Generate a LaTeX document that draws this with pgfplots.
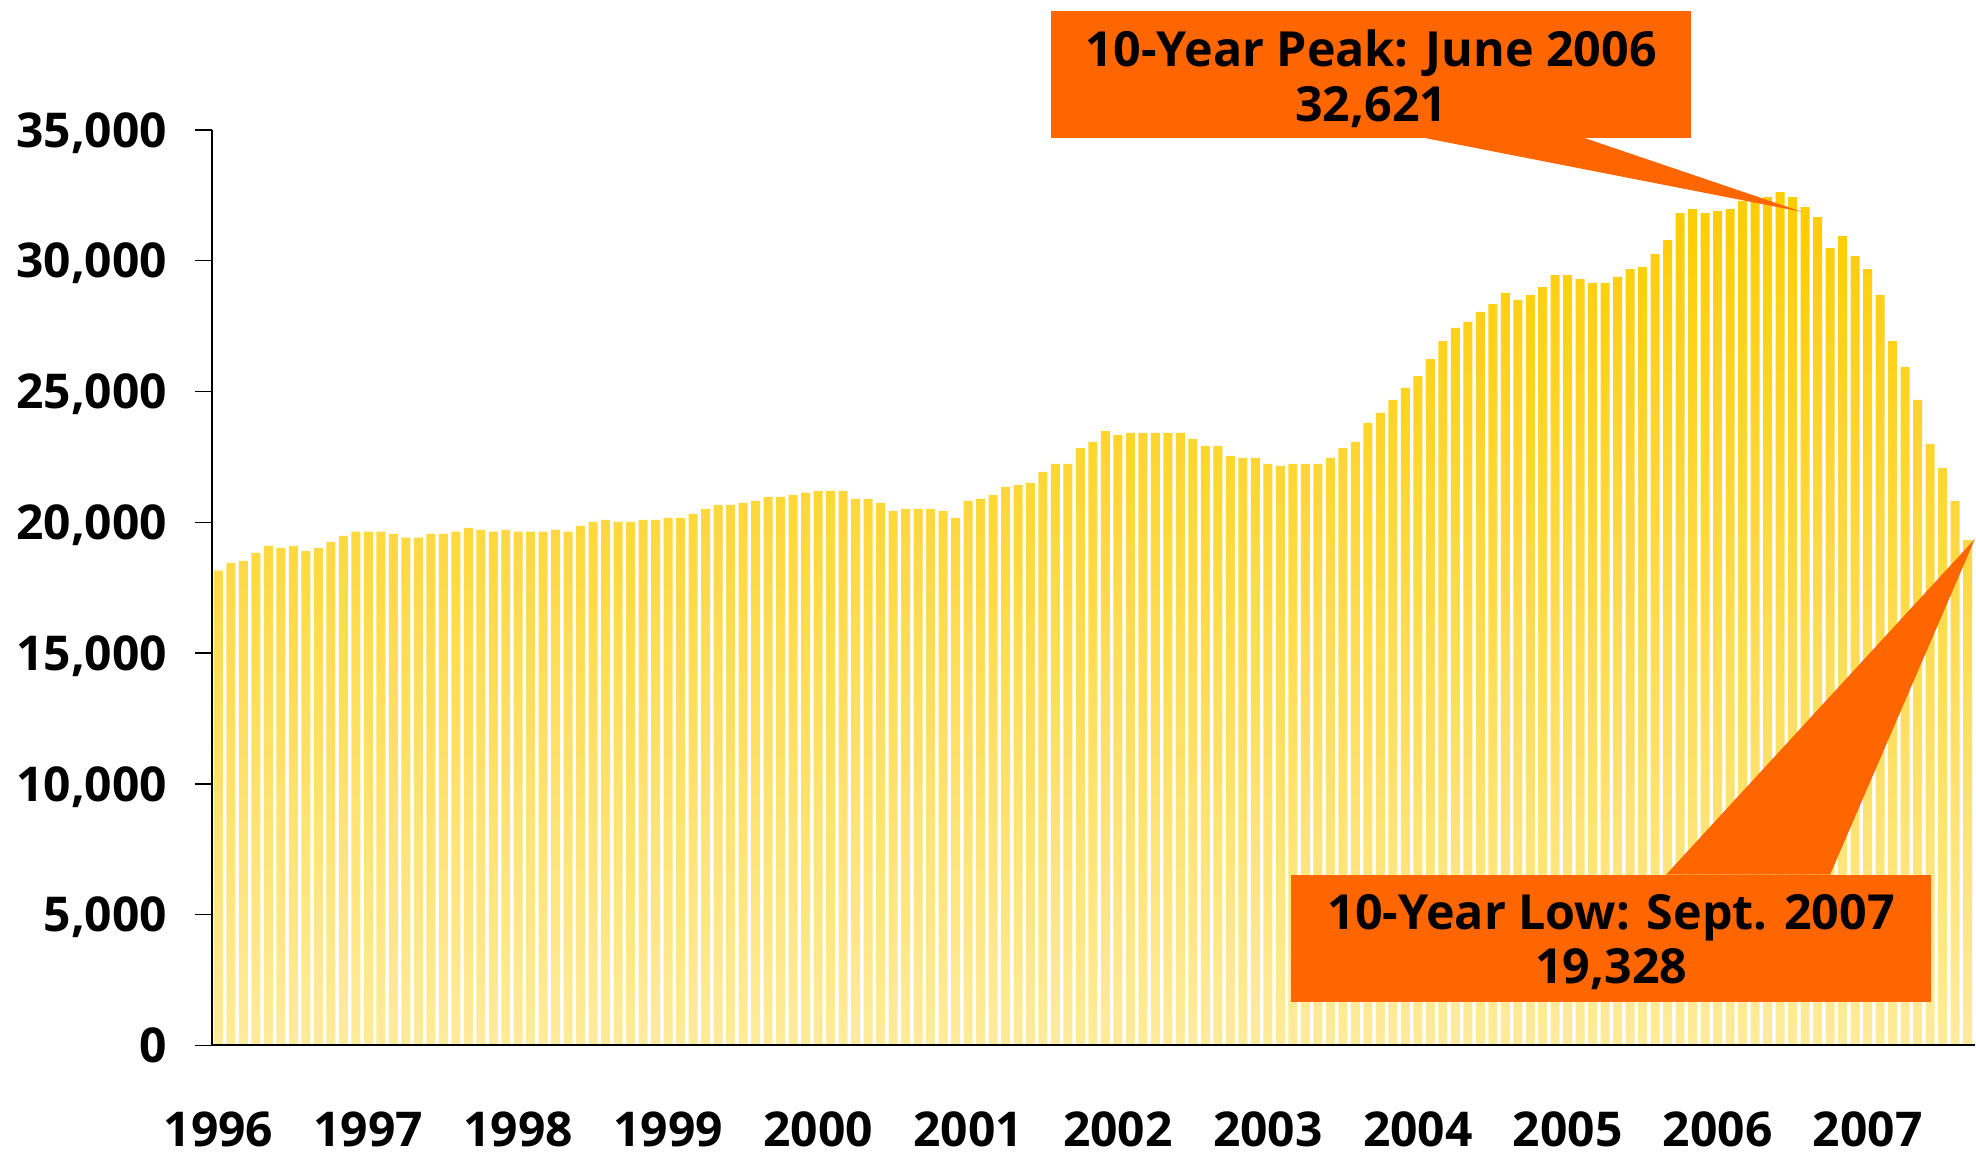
\documentclass[border=0pt]{standalone}
\usepackage{fontspec}
\setmainfont{Open Sans}
\usepackage{pgfplots}
\pgfplotsset{compat=1.18}
\usepackage{pgfplotstable}
\definecolor{bartop}{HTML}{FFCC00}
\definecolor{barbot}{HTML}{FFEB9C}
\definecolor{callout}{HTML}{FF6600}

% monthly values, Jan 1996 (1) to Sept 2007 (141)
\pgfplotstableread{
m v
1 18150
2 18450
3 18530
4 18830
5 19100
6 19020
7 19100
8 18910
9 19020
10 19250
11 19480
12 19640
13 19640
14 19640
15 19560
16 19410
17 19410
18 19560
19 19560
20 19640
21 19790
22 19710
23 19640
24 19710
25 19640
26 19640
27 19640
28 19710
29 19640
30 19860
31 20020
32 20090
33 20020
34 20020
35 20090
36 20090
37 20170
38 20170
39 20320
40 20510
41 20670
42 20670
43 20740
44 20820
45 20970
46 20970
47 21050
48 21130
49 21200
50 21200
51 21200
52 20900
53 20900
54 20740
55 20440
56 20510
57 20510
58 20510
59 20440
60 20170
61 20820
62 20900
63 21050
64 21350
65 21430
66 21510
67 21930
68 22230
69 22230
70 22840
71 23070
72 23490
73 23340
74 23420
75 23420
76 23420
77 23420
78 23420
79 23190
80 22920
81 22920
82 22540
83 22460
84 22460
85 22230
86 22160
87 22230
88 22230
89 22230
90 22460
91 22840
92 23070
93 23800
94 24180
95 24680
96 25140
97 25590
98 26240
99 26930
100 27430
101 27660
102 28040
103 28340
104 28770
105 28500
106 28690
107 28990
108 29450
109 29450
110 29300
111 29150
112 29150
113 29380
114 29680
115 29760
116 30250
117 30790
118 31820
119 31970
120 31820
121 31900
122 31970
123 32280
124 32300
125 32430
126 32621
127 32430
128 32050
129 31670
130 30480
131 30940
132 30180
133 29680
134 28690
135 26930
136 25940
137 24680
138 23000
139 22080
140 20820
141 19328
}\permits

\begin{document}
\begin{tikzpicture}
\begin{axis}[
    at={(53pt,27.25pt)}, anchor=south west,
    width=441pt, height=229pt, scale only axis,
    xmin=0.48, xmax=141.6, ymin=0, ymax=35000,
    axis x line=bottom, axis y line=left,
    axis line style={-, black, line width=0.5pt},
    axis on top,
    xtick={1,13,25,37,49,61,73,85,97,109,121,133},
    xticklabels={1996,1997,1998,1999,2000,2001,2002,2003,2004,2005,2006,2007},
    xtick style={draw=none},
    ytick={0,5000,10000,15000,20000,25000,30000,35000},
    tick align=outside, major tick length=4.25pt,
    ytick style={black, line width=0.35pt},
    scaled y ticks=false,
    /pgf/number format/1000 sep={,},
    /pgf/number format/assume math mode=true,
    tick label style={font=\fontsize{12}{14}\selectfont\bfseries, inner sep=0pt},
    yticklabel style={anchor=base east, xshift=-6.75pt, yshift=-4.3pt},
    xticklabel style={anchor=base, yshift=-21pt},
    clip=false,
]
\addplot[ybar, bar width=0.72, draw=none, top color=bartop, bottom color=barbot]
    table[x=m, y=v] {\permits};
\end{axis}
\begin{scope}[x=0.25pt, y=0.25pt]
\path[use as bounding box] (0,0) rectangle (1976,1155);
\fill[callout] (1425,1017) -- (1585,1017) -- (1803,943) -- cycle;
\fill[callout] (1052,1017) rectangle (1692,1144);
\fill[callout] (1667,280) -- (1831,280) -- (1976,616) -- cycle;
\fill[callout] (1292,152) rectangle (1932,280);
\begin{scope}[every node/.style={anchor=base, inner sep=0pt,
    font=\fontsize{12.1}{14}\selectfont\bfseries}]
\node at (1372,1088) {10-Year Peak: June 2006};
\node at (1372,1033) {32,621};
\node at (1612,225) {10-Year Low: Sept. 2007};
\node at (1612,171) {19,328};
\end{scope}
\end{scope}
\end{tikzpicture}
\end{document}
